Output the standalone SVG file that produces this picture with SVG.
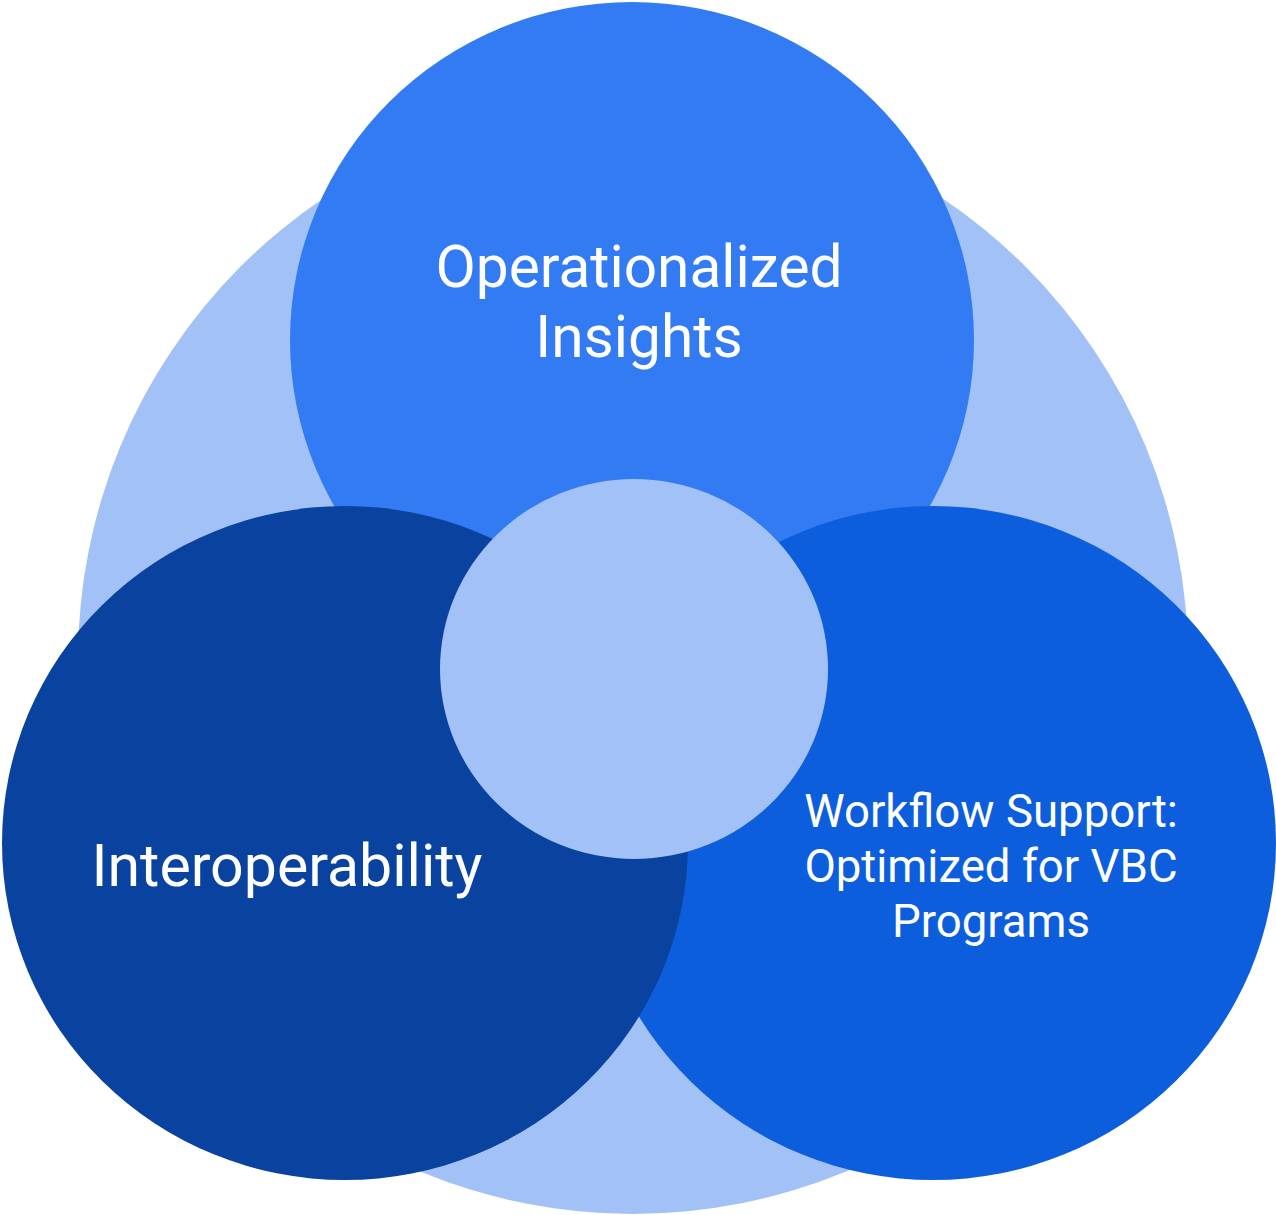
<svg xmlns="http://www.w3.org/2000/svg" width="1276" height="1215" viewBox="0 0 1276 1215">
<style>
.t{font-family:Roboto,"Liberation Sans",sans-serif;fill:#ffffff;text-anchor:middle}
</style>
<rect width="1276" height="1215" fill="#ffffff"/>
<g id="background"><circle cx="633" cy="659" r="555" fill="#A2C2F7"/></g>
<g id="node-insights">
<ellipse cx="632" cy="340" rx="342" ry="338" fill="#337BF2"/>
<text class="t" font-size="58.6" x="639" y="287">Operationalized</text>
<text class="t" font-size="58.6" x="639" y="357">Insights</text>
</g>
<g id="node-workflow">
<ellipse cx="933" cy="843" rx="343" ry="337" fill="#0D5EDD"/>
<text class="t" font-size="45.6" x="991" y="827">Workflow Support:</text>
<text class="t" font-size="45.6" x="991" y="882">Optimized for VBC</text>
<text class="t" font-size="45.6" x="991" y="937">Programs</text>
</g>
<g id="node-interop">
<ellipse cx="345" cy="843" rx="343" ry="337" fill="#0A439F"/>
<text class="t" font-size="59" x="287" y="886">Interoperability</text>
</g>
<g id="node-center"><ellipse cx="634" cy="669" rx="194" ry="190" fill="#A2C2F7"/></g>
<g id="connectors"></g>
</svg>
